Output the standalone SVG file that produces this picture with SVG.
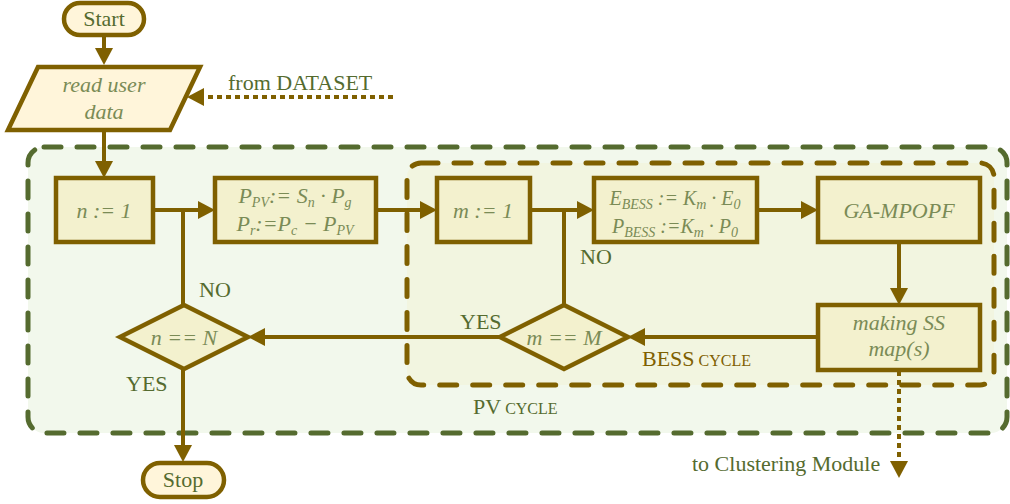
<svg xmlns="http://www.w3.org/2000/svg" width="1010" height="504" viewBox="0 0 1010 504">
<defs>
<style>
.box{fill:#F3F1CE;stroke:#7F6000;stroke-width:4.5}
.term{fill:#FFF5DA;stroke:#7F6000;stroke-width:4.5}
.ln{fill:none;stroke:#7F6000;stroke-width:4}
.dot{fill:none;stroke:#7F6000;stroke-width:4;stroke-dasharray:5 4}
.lbl{font-family:"Liberation Serif",serif;font-size:22px;fill:#556B2F}
.math{font-family:"Liberation Serif",serif;font-style:italic;font-size:22px;fill:#7A8B56;text-anchor:middle}
.s20{font-size:20px}
.sub{font-size:14px}
</style>
<marker id="ah" markerUnits="userSpaceOnUse" markerWidth="18" markerHeight="18" viewBox="0 0 18 18" refX="2" refY="9" orient="auto"><path d="M0,0 L17,9 L0,18 z" fill="#7F6000"/></marker>
</defs>
<rect width="1010" height="504" fill="#FFFFFF"/>
<g id="pv-cycle">
<rect x="28" y="147" width="979" height="286" rx="16" fill="#F2F8EC" stroke="#556B2F" stroke-width="5" stroke-dasharray="17 16" stroke-linecap="round"/>
<text class="lbl" x="473" y="414">PV<tspan font-size="16"> CYCLE</tspan></text>
</g>
<g id="bess-cycle">
<rect x="407" y="163" width="587" height="222" rx="14" fill="#F2F5E0" stroke="#7F6000" stroke-width="5" stroke-dasharray="17 16" stroke-linecap="round"/>
<text class="lbl" x="642" y="366" style="fill:#7F6000">BESS<tspan font-size="16"> CYCLE</tspan></text>
</g>
<g id="connectors">
<path class="ln" d="M104,36 V50" marker-end="url(#ah)"/>
<path class="ln" d="M104,130 V163" marker-end="url(#ah)"/>
<path class="ln" d="M153,210 H200" marker-end="url(#ah)"/>
<path class="ln" d="M376,210 H422" marker-end="url(#ah)"/>
<path class="ln" d="M530,210 H579" marker-end="url(#ah)"/>
<path class="ln" d="M757,210 H803" marker-end="url(#ah)"/>
<path class="ln" d="M899,242 V290" marker-end="url(#ah)"/>
<path class="ln" d="M818,337 H643" marker-end="url(#ah)"/>
<path class="ln" d="M564,305 V210"/>
<path class="ln" d="M500,337 H263" marker-end="url(#ah)"/>
<path class="ln" d="M183,305 V210"/>
<path class="ln" d="M183,369 V447" marker-end="url(#ah)"/>
<path class="dot" d="M393,97 H202" marker-end="url(#ah)"/>
<path class="dot" d="M899,371 V463" marker-end="url(#ah)"/>
<text class="lbl" x="199" y="297">NO</text>
<text class="lbl" x="580" y="264">NO</text>
<text class="lbl" x="460" y="329">YES</text>
<text class="lbl" x="126" y="391">YES</text>
<text class="lbl" x="228" y="90">from DATASET</text>
<text class="lbl" x="692" y="471">to Clustering Module</text>
</g>
<g id="start">
<rect class="term" x="64" y="3" width="80" height="32" rx="16"/>
<text class="lbl" x="104" y="26" text-anchor="middle">Start</text>
</g>
<g id="read-data">
<polygon class="term" points="38,67 200,67 170,130 8,130"/>
<text class="math" x="104" y="92">read user</text>
<text class="math" x="104" y="119">data</text>
</g>
<g id="n-init">
<rect class="box" x="56" y="178" width="97" height="64"/>
<text class="math" x="104" y="218">n := 1</text>
</g>
<g id="pv-calc">
<rect class="box" x="215" y="178" width="161" height="64"/>
<text class="math" x="295" y="203">P<tspan class="sub" dy="4">PV</tspan><tspan dy="-4">:= S</tspan><tspan class="sub" dy="4">n</tspan><tspan dy="-4"> · P</tspan><tspan class="sub" dy="4">g</tspan></text>
<text class="math" x="295" y="231">P<tspan class="sub" dy="4">r</tspan><tspan dy="-4">:=P</tspan><tspan class="sub" dy="4">c</tspan><tspan dy="-4"> − P</tspan><tspan class="sub" dy="4">PV</tspan></text>
</g>
<g id="m-init">
<rect class="box" x="437" y="178" width="93" height="64"/>
<text class="math" x="483" y="218">m := 1</text>
</g>
<g id="bess-calc">
<rect class="box" x="594" y="178" width="163" height="64"/>
<text class="math s20" x="675" y="205">E<tspan class="sub" dy="4">BESS</tspan><tspan dy="-4"> := K</tspan><tspan class="sub" dy="4">m</tspan><tspan dy="-4"> · E</tspan><tspan class="sub" dy="4">0</tspan></text>
<text class="math s20" x="675" y="233">P<tspan class="sub" dy="4">BESS</tspan><tspan dy="-4"> :=K</tspan><tspan class="sub" dy="4">m</tspan><tspan dy="-4"> · P</tspan><tspan class="sub" dy="4">0</tspan></text>
</g>
<g id="ga-mpopf">
<rect class="box" x="818" y="178" width="162" height="64"/>
<text class="math" x="899" y="218">GA-MPOPF</text>
</g>
<g id="making-ss">
<rect class="box" x="818" y="305" width="162" height="65"/>
<text class="math" x="899" y="330">making SS</text>
<text class="math" x="899" y="356">map(s)</text>
</g>
<g id="m-check">
<polygon class="box" points="500,337 564,305 628,337 564,369"/>
<text class="math" x="564" y="345">m == M</text>
</g>
<g id="n-check">
<polygon class="box" points="120,337 184,305 248,337 184,369"/>
<text class="math" x="184" y="345">n == N</text>
</g>
<g id="stop">
<rect class="term" x="143" y="463" width="81" height="34" rx="17"/>
<text class="lbl" x="183" y="487" text-anchor="middle">Stop</text>
</g>
</svg>
